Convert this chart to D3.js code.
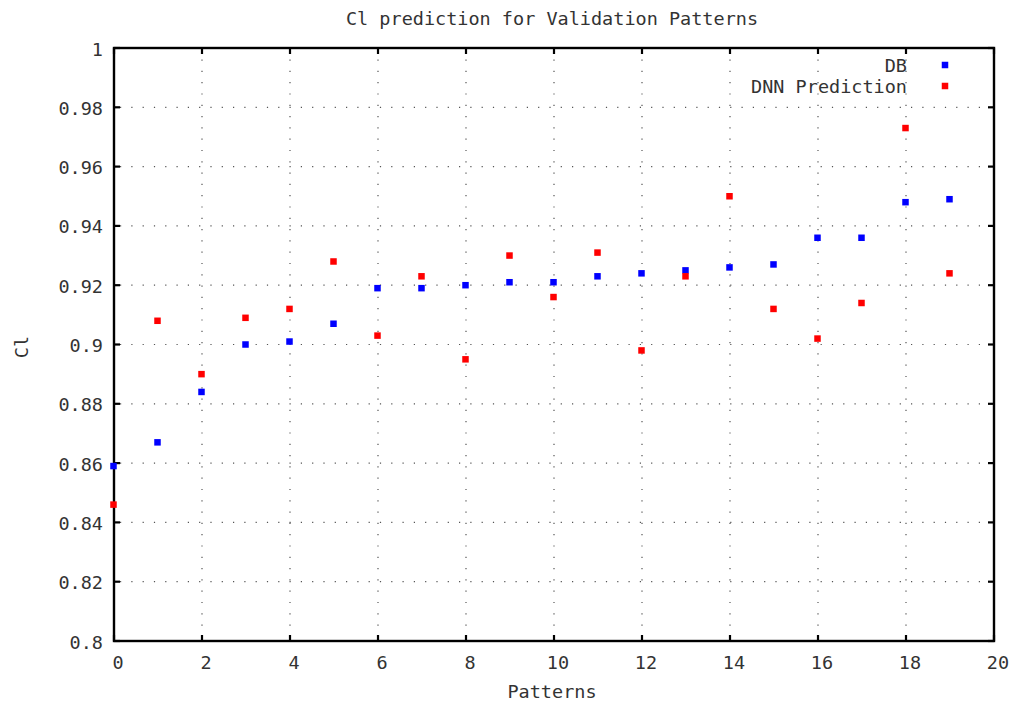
<!DOCTYPE html>
<html>
<head>
<meta charset="utf-8">
<script src="https://cdn.jsdelivr.net/npm/d3@7"></script>
<style>
  html, body { margin: 0; padding: 0; background: #fff; }
  svg { display: block; }
  text { font-family: "DejaVu Sans Mono", "Liberation Mono", monospace; fill: #333; }
</style>
</head>
<body>
<svg id="chart" width="1013" height="703"></svg>
<script>
// Pattern indices (x values)
const patterns = [0, 1, 2, 3, 4, 5, 6, 7, 8, 9, 10, 11, 12, 13, 14, 15, 16, 17, 18, 19];
// Cl from the database
const dbValues = [0.859, 0.867, 0.884, 0.900, 0.901, 0.907, 0.919, 0.919, 0.920, 0.921,
                  0.921, 0.923, 0.924, 0.925, 0.926, 0.927, 0.936, 0.936, 0.948, 0.949];
// Cl predicted by the network
const dnnValues = [0.846, 0.908, 0.890, 0.909, 0.912, 0.928, 0.903, 0.923, 0.895, 0.930,
                   0.916, 0.931, 0.898, 0.923, 0.950, 0.912, 0.902, 0.914, 0.973, 0.924];
const xTicks = [0, 2, 4, 6, 8, 10, 12, 14, 16, 18, 20];
const yTicks = [0.8, 0.82, 0.84, 0.86, 0.88, 0.9, 0.92, 0.94, 0.96, 0.98, 1];
const seriesNames = ["DB", "DNN Prediction"];
const seriesColors = ["#0000ff", "#ff0000"];

const svg = d3.select("#chart");
const plotLeft = 114, plotRight = 994, plotTop = 48, plotBottom = 641;
const fontSize = 18.5;

const x = d3.scaleLinear().domain([0, 20]).range([plotLeft, plotRight]);
const y = d3.scaleLinear().domain([0.8, 1]).range([plotBottom, plotTop]);

// Dotted grid
const grid = svg.append("g").attr("stroke", "#555").attr("stroke-width", 1.2)
  .attr("stroke-dasharray", "1.2 10.1");
grid.selectAll("line.gx").data(xTicks.slice(1, -1)).join("line")
  .attr("x1", d => x(d)).attr("x2", d => x(d))
  .attr("y1", plotBottom - 4).attr("y2", plotTop + 4);
grid.selectAll("line.gy").data(yTicks.slice(1, -1)).join("line")
  .attr("y1", d => y(d)).attr("y2", d => y(d))
  .attr("x1", plotLeft + 6).attr("x2", plotRight - 6);

// Inward ticks on all four sides
const ticks = svg.append("g").attr("stroke", "#000").attr("stroke-width", 2.2);
ticks.selectAll("line.tb").data(xTicks).join("line")
  .attr("x1", d => x(d)).attr("x2", d => x(d)).attr("y1", plotBottom).attr("y2", plotBottom - 6);
ticks.selectAll("line.tt").data(xTicks).join("line")
  .attr("x1", d => x(d)).attr("x2", d => x(d)).attr("y1", plotTop).attr("y2", plotTop + 6);
ticks.selectAll("line.tl").data(yTicks).join("line")
  .attr("y1", d => y(d)).attr("y2", d => y(d)).attr("x1", plotLeft).attr("x2", plotLeft + 6);
ticks.selectAll("line.tr").data(yTicks).join("line")
  .attr("y1", d => y(d)).attr("y2", d => y(d)).attr("x1", plotRight).attr("x2", plotRight - 6);

// Frame
svg.append("rect").attr("x", plotLeft).attr("y", plotTop)
  .attr("width", plotRight - plotLeft).attr("height", plotBottom - plotTop)
  .attr("fill", "none").attr("stroke", "#000").attr("stroke-width", 2.4);

// Tick labels
svg.append("g").selectAll("text").data(xTicks).join("text")
  .attr("x", d => x(d) + 4).attr("y", 662)
  .attr("text-anchor", "middle").attr("dominant-baseline", "central")
  .attr("font-size", fontSize).text(d => d);
svg.append("g").selectAll("text").data(yTicks).join("text")
  .attr("x", 103).attr("y", d => y(d) + 1)
  .attr("text-anchor", "end").attr("dominant-baseline", "central")
  .attr("font-size", fontSize).text(d => String(+d.toFixed(2)));

// Title and axis labels
svg.append("text").attr("x", 552).attr("y", 18)
  .attr("text-anchor", "middle").attr("dominant-baseline", "central")
  .attr("font-size", fontSize).text("Cl prediction for Validation Patterns");
svg.append("text").attr("x", 552).attr("y", 691)
  .attr("text-anchor", "middle").attr("dominant-baseline", "central")
  .attr("font-size", fontSize).text("Patterns");
svg.append("text").attr("transform", "translate(21,347) rotate(-90)")
  .attr("text-anchor", "middle").attr("dominant-baseline", "central")
  .attr("font-size", fontSize).text("Cl");

// Points
const size = 6.5;
[dbValues, dnnValues].forEach((vals, i) => {
  svg.append("g").selectAll("rect").data(vals).join("rect")
    .attr("x", (d, j) => x(patterns[j]) - size / 2 - 0.5)
    .attr("y", d => y(d) - size / 2)
    .attr("width", size).attr("height", size)
    .attr("fill", seriesColors[i]);
});

// Legend
const legend = svg.append("g");
seriesNames.forEach((name, i) => {
  const ly = 65 + i * 21;
  legend.append("text").attr("x", 907).attr("y", ly)
    .attr("text-anchor", "end").attr("dominant-baseline", "central")
    .attr("font-size", fontSize).text(name);
  legend.append("rect").attr("x", 945 - size / 2).attr("y", ly - size / 2)
    .attr("width", size).attr("height", size).attr("fill", seriesColors[i]);
});
</script>
</body>
</html>
